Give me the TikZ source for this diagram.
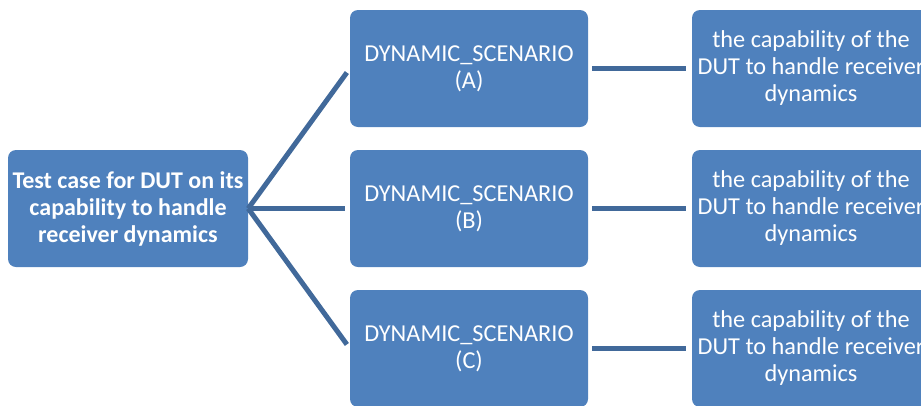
\documentclass[tikz,border=0pt]{standalone}
\usepackage{fontspec}
\setmainfont{Carlito}
\definecolor{boxblue}{HTML}{4F81BD}
\definecolor{lineblue}{HTML}{41699A}
\tikzset{
    box/.style={fill=boxblue, rounded corners=8pt, text=white, align=center,
        minimum width=238pt, minimum height=117pt, inner sep=0pt,
        font=\fontsize{24.3}{27}\selectfont},
    link/.style={draw=lineblue, line width=5pt},
}
\begin{document}
\begin{tikzpicture}[x=1pt,y=-1pt]
        \useasboundingbox (0,0) rectangle (921,405);

        \node[box, minimum width=240pt, font=\bfseries\fontsize{24}{27}\selectfont] (T1) at (128,208.5) {Test case for DUT on its\\capability to handle\\receiver dynamics};

        \node[box] (S1) at (469,68.5) {DYNAMIC\_SCENARIO\\(A)};
        \node[box] (S2) at (469,208.5) {DYNAMIC\_SCENARIO\\(B)};
        \node[box] (S3) at (469,348.5) {DYNAMIC\_SCENARIO\\(C)};
        \draw[link, shorten >=5pt] (T1.east) -- (S1.west);
        \draw[link, shorten >=5pt] (T1.east) -- (S2.west);
        \draw[link, shorten >=5pt] (T1.east) -- (S3.west);

        \node[box] (C1) at (811,68.5) {the capability of the\\DUT to handle receiver\\dynamics};
        \node[box] (C2) at (811,208.5) {the capability of the\\DUT to handle receiver\\dynamics};
        \node[box] (C3) at (811,348.5) {the capability of the\\DUT to handle receiver\\dynamics};
        \draw[link, shorten <=4pt, shorten >=6pt] (S1) -- (C1);
        \draw[link, shorten <=4pt, shorten >=6pt] (S2) -- (C2);
        \draw[link, shorten <=4pt, shorten >=6pt] (S3) -- (C3);
    \end{tikzpicture}
\end{document}
